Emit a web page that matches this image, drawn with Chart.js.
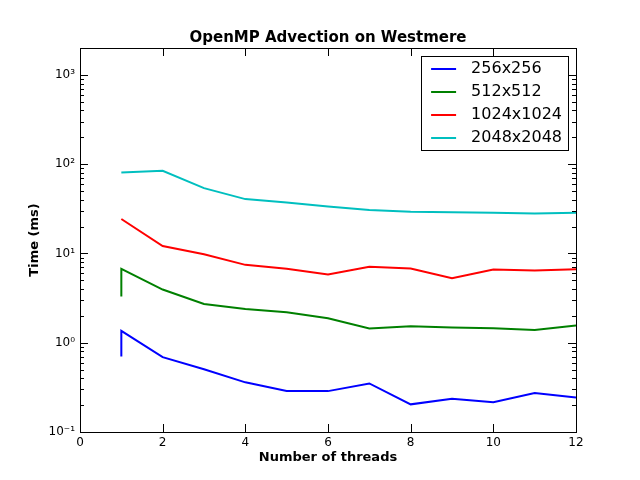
<!DOCTYPE html>
<html>
<head>
<meta charset="utf-8">
<script src="https://cdn.jsdelivr.net/npm/chart.js@4/dist/chart.umd.min.js"></script>
<style>
  html, body { margin: 0; padding: 0; background: #fff; }
  #wrap { width: 640px; height: 480px; }
</style>
</head>
<body>
<div id="wrap"><canvas id="chart" width="640" height="480"></canvas></div>
<script>
const threads = [1, 1, 2, 3, 4, 5, 6, 7, 8, 9, 10, 11, 12];
const t256 = [0.70, 1.36, 0.69, 0.505, 0.36, 0.288, 0.287, 0.35, 0.204, 0.236, 0.215, 0.274, 0.243];
const t512 = [3.29, 6.72, 3.94, 2.72, 2.39, 2.20, 1.88, 1.44, 1.53, 1.48, 1.45, 1.39, 1.56];
const t1024 = [24.3, 24.3, 12.1, 9.8, 7.45, 6.72, 5.8, 7.08, 6.77, 5.29, 6.6, 6.43, 6.67];
const t2048 = [80.7, 80.7, 84.3, 53.9, 40.6, 37.2, 33.6, 30.6, 29.3, 29.0, 28.5, 28.0, 28.5];
const seriesLabels = ["256x256", "512x512", "1024x1024", "2048x2048"];
const seriesColors = ["#0000ff", "#008000", "#ff0000", "#00bfbf"];
const xTicks = [0, 2, 4, 6, 8, 10, 12];
const yTicks = [0.1, 1, 10, 100, 1000];
const yTickLabels = ["10\u207B\u00B9", "10\u2070", "10\u00B9", "10\u00B2", "10\u00B3"];
const chartTitle = "OpenMP Advection on Westmere";

const FONT = "'DejaVu Sans', sans-serif";

function toPoints(values) {
  return values.map((v, i) => ({ x: threads[i], y: v }));
}

const datasets = [t256, t512, t1024, t2048].map((vals, i) => ({
  label: seriesLabels[i],
  data: toPoints(vals),
  borderColor: seriesColors[i],
  backgroundColor: seriesColors[i],
  borderWidth: 2,
  pointRadius: 0,
  tension: 0,
  fill: false,
}));

// matplotlib-like frame, inward ticks, title over the plot area and boxed legend
const framePlugin = {
  id: "frame",
  afterDraw(chart) {
    const { ctx, chartArea: a, scales } = chart;
    const xs = scales.x, ys = scales.y;
    ctx.save();
    ctx.strokeStyle = "#000";
    ctx.lineWidth = 1;
    ctx.strokeRect(a.left + 0.5, a.top + 0.5, a.right - a.left, a.bottom - a.top);

    ctx.beginPath();
    for (const v of xTicks) {
      const px = Math.round(xs.getPixelForValue(v)) + 0.5;
      ctx.moveTo(px, a.bottom); ctx.lineTo(px, a.bottom - 8);
      ctx.moveTo(px, a.top); ctx.lineTo(px, a.top + 8);
    }
    for (const v of yTicks) {
      const py = Math.round(ys.getPixelForValue(v)) + 0.5;
      ctx.moveTo(a.left, py); ctx.lineTo(a.left + 8, py);
      ctx.moveTo(a.right, py); ctx.lineTo(a.right - 8, py);
    }
    for (const dec of yTicks) {
      for (let m = 2; m <= 9; m++) {
        const v = m * dec;
        if (v >= ys.max) continue;
        const py = Math.round(ys.getPixelForValue(v)) + 0.5;
        ctx.moveTo(a.left, py); ctx.lineTo(a.left + 4, py);
        ctx.moveTo(a.right, py); ctx.lineTo(a.right - 4, py);
      }
    }
    ctx.stroke();

    // title
    ctx.fillStyle = "#000";
    ctx.font = "bold 15px " + FONT;
    ctx.textAlign = "center";
    ctx.textBaseline = "alphabetic";
    ctx.fillText(chartTitle, (a.left + a.right) / 2, a.top - 6);

    // legend
    ctx.textAlign = "left";
    ctx.font = "16px " + FONT;
    const rowH = 23;
    let textW = 0;
    for (const ds of chart.data.datasets) textW = Math.max(textW, ctx.measureText(ds.label).width);
    const boxW = 50 + textW + 6;
    const boxH = rowH * chart.data.datasets.length + 2;
    const bx = a.right - 8 - boxW;
    const by = a.top + 8;
    ctx.fillStyle = "#fff";
    ctx.fillRect(bx, by, boxW, boxH);
    ctx.strokeRect(Math.round(bx) + 0.5, Math.round(by) + 0.5, Math.round(boxW), Math.round(boxH));
    ctx.textBaseline = "middle";
    chart.data.datasets.forEach((ds, i) => {
      const y = by + 13 + i * rowH;
      ctx.strokeStyle = ds.borderColor;
      ctx.lineWidth = 2;
      ctx.beginPath();
      ctx.moveTo(bx + 10, y); ctx.lineTo(bx + 35, y);
      ctx.stroke();
      ctx.fillStyle = "#000";
      ctx.fillText(ds.label, bx + 50, y);
    });
    ctx.restore();
  },
};

new Chart(document.getElementById("chart"), {
  type: "line",
  data: { datasets },
  plugins: [framePlugin],
  options: {
    responsive: false,
    animation: false,
    layout: { padding: { left: 0, right: 64, top: 48, bottom: 0 } },
    plugins: {
      legend: { display: false },
      tooltip: { enabled: false },
      title: { display: false },
    },
    scales: {
      x: {
        type: "linear",
        min: 0,
        max: 12,
        afterBuildTicks: (scale) => { scale.ticks = xTicks.map((v) => ({ value: v })); },
        afterFit: (scale) => { scale.height = 48; },
        grid: { display: false, drawTicks: false },
        border: { display: false },
        ticks: { color: "#000", padding: 4, font: { family: FONT, size: 12 }, maxRotation: 0 },
        title: {
          display: true,
          text: "Number of threads",
          color: "#000",
          font: { family: FONT, size: 13, weight: "bold" },
          padding: { top: 0, bottom: 15 },
        },
      },
      y: {
        type: "logarithmic",
        min: 0.1,
        max: 2000,
        afterBuildTicks: (scale) => { scale.ticks = yTicks.map((v) => ({ value: v })); },
        afterFit: (scale) => { scale.width = 80; },
        grid: { display: false, drawTicks: false },
        border: { display: false },
        ticks: {
          color: "#000",
          padding: 5,
          font: { family: FONT, size: 12 },
          callback: (value) => {
            const i = yTicks.findIndex((t) => Math.abs(t - value) / t < 1e-6);
            return i >= 0 ? yTickLabels[i] : "";
          },
        },
        title: {
          display: true,
          text: "Time (ms)",
          color: "#000",
          font: { family: FONT, size: 13, weight: "bold" },
          padding: { top: 27, bottom: 0 },
        },
      },
    },
  },
});
</script>
</body>
</html>
